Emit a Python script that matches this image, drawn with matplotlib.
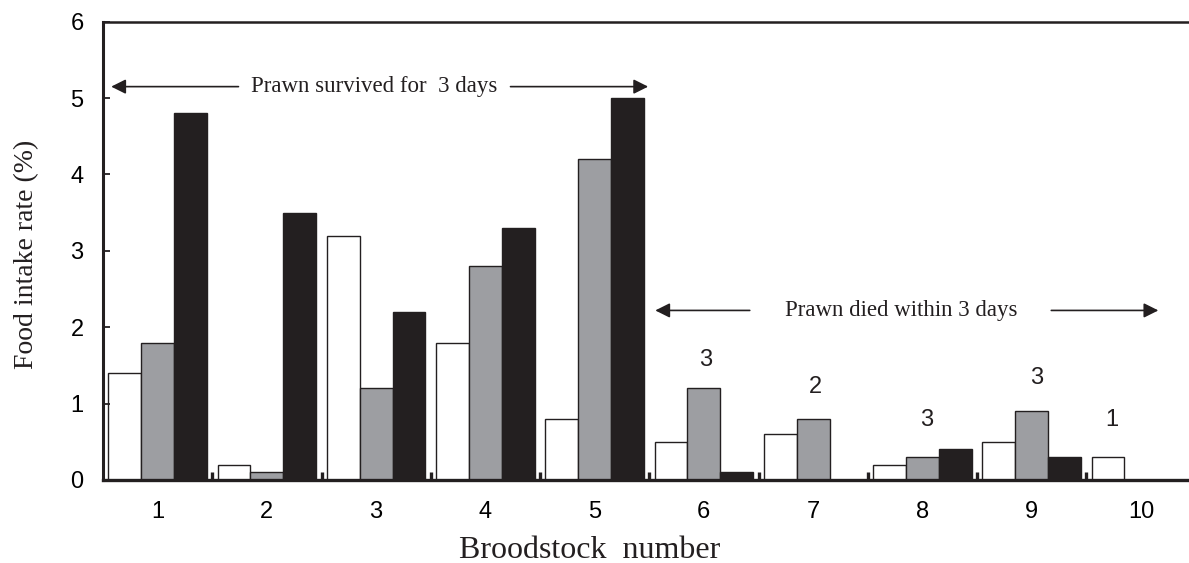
import numpy as np
import matplotlib
matplotlib.use("Agg")
import matplotlib.pyplot as plt

# food intake (%) per broodstock, three feeding trials
broodstock = [1, 2, 3, 4, 5, 6, 7, 8, 9, 10]
trial_a = [1.4, 0.2, 3.2, 1.8, 0.8, 0.5, 0.6, 0.2, 0.5, 0.3]
trial_b = [1.8, 0.1, 1.2, 2.8, 4.2, 1.2, 0.8, 0.3, 0.9, 0.0]
trial_c = [4.8, 3.5, 2.2, 3.3, 5.0, 0.1, 0.0, 0.4, 0.3, 0.0]

# survival-day counts written above the prawns that died
count_labels = ["3", "2", "3", "3", "1"]
count_x = [6.02, 7.02, 8.04, 9.05, 9.73]
count_y = [1.57, 1.22, 0.78, 1.33, 0.78]

ink = "#231f20"
serif = ["Liberation Serif", "DejaVu Serif"]
sans = ["Liberation Sans Narrow", "Liberation Sans", "DejaVu Sans"]

fig = plt.figure(figsize=(11.89, 5.63), dpi=100)
ax = fig.add_axes([103 / 1189, 83 / 563, 1092.5 / 1189, 458.3 / 563])

x = np.arange(len(broodstock)) + 1
w = 0.3
ax.bar(x - w, trial_a, w, color="white", edgecolor=ink, linewidth=1.0)
ax.bar(x, trial_b, w, color="#9d9ea2", edgecolor=ink, linewidth=1.0)
ax.bar(x + w, trial_c, w, color=ink, edgecolor=ink, linewidth=1.0)

ax.set_xlim(0.5, 10.5)
ax.set_ylim(0, 6)

ax.set_xticks(x)
ax.set_xticklabels([str(b) for b in broodstock], family=sans, fontsize=17)
ax.set_xticks(x[:-1] + 0.5, minor=True)
ax.tick_params(axis="x", which="major", length=0, pad=15)
ax.tick_params(axis="x", which="minor", direction="in", length=6, width=2.4, color=ink)

ax.set_yticks(range(0, 7))
ax.set_yticklabels([str(v) for v in range(0, 7)], family=sans, fontsize=17)
ax.tick_params(axis="y", direction="in", length=5, width=1.3, color=ink, pad=14)

for side in ["left", "bottom", "top"]:
    ax.spines[side].set_color(ink)
ax.spines["left"].set_linewidth(2.2)
ax.spines["bottom"].set_linewidth(2.4)
ax.spines["top"].set_linewidth(1.8)
ax.spines["right"].set_visible(False)

ax.set_xlabel("Broodstock  number", family=serif, fontsize=23, color=ink, va="center")
ax.xaxis.set_label_coords(0.445, -0.153)
ax.set_ylabel("Food intake rate (%)", family=serif, fontsize=20, color=ink, va="center")
ax.yaxis.set_label_coords(-0.0696, 0.493)

# survival group arrows
arrow = dict(arrowstyle="-|>", color=ink, lw=1.2, mutation_scale=22, shrinkA=0, shrinkB=0)
ax.annotate("", xy=(0.575, 5.15), xytext=(1.74, 5.15), arrowprops=arrow)
ax.annotate("", xy=(5.49, 5.15), xytext=(4.23, 5.15), arrowprops=arrow)
ax.text(2.985, 5.15, "Prawn survived for  3 days", family=serif, fontsize=16.5,
        color=ink, ha="center", va="center")

ax.annotate("", xy=(5.555, 2.22), xytext=(6.42, 2.22), arrowprops=arrow)
ax.annotate("", xy=(10.16, 2.22), xytext=(9.18, 2.22), arrowprops=arrow)
ax.text(7.81, 2.22, "Prawn died within 3 days", family=serif, fontsize=16.5,
        color=ink, ha="center", va="center")

for lab, lx, ly in zip(count_labels, count_x, count_y):
    ax.text(lx, ly, lab, family=sans, fontsize=17, color=ink, ha="center", va="center")

fig.savefig("out.png", dpi=100)
